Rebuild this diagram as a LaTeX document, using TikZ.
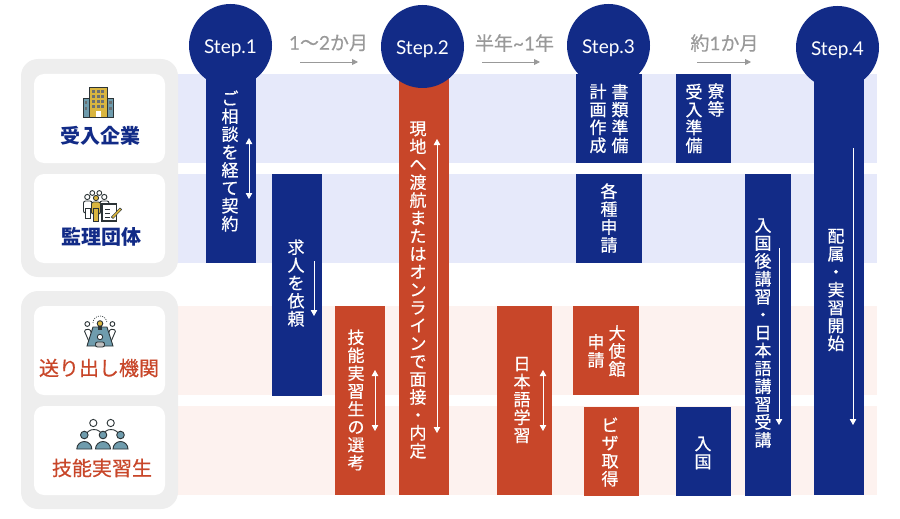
\documentclass[tikz,border=0pt]{standalone}
\usepackage{fontspec}
\setmainfont{Lato}
\newfontfamily\cjk{Noto Sans CJK JP}
\newfontfamily\cjkmid[FakeBold=0.5]{Noto Sans CJK JP}
\newfontfamily\latomid[FakeBold=0.3]{Lato}
\usetikzlibrary{arrows.meta}
\definecolor{navy}{HTML}{122B87}
\definecolor{brick}{HTML}{C84629}
\definecolor{bandblue}{HTML}{E6E9FA}
\definecolor{bandpink}{HTML}{FDF2EF}
\definecolor{panelgray}{HTML}{EEEEEE}
\definecolor{span}{HTML}{999999}
\definecolor{iconblue}{HTML}{6F9CAD}
\definecolor{icongold}{HTML}{D9B53F}
\definecolor{iconline}{HTML}{2B3336}
\tikzset{
	stepcircle/.style={circle,fill=navy,text=white,minimum size=83pt,inner sep=0pt,text height=16pt,text depth=0pt,font=\fontsize{19}{21}\selectfont},
	vlabel/.style={text=white,align=center,inner sep=0pt,font=\cjkmid\fontsize{17}{17.9}\selectfont},
	bluelabel/.style={text=navy,inner sep=0pt,font=\cjk\bfseries\fontsize{20}{23}\selectfont},
	redlabel/.style={text=brick,inner sep=0pt,font=\cjkmid\fontsize{20}{22}\selectfont},
	spanlabel/.style={text=span,inner sep=0pt,font=\cjkmid\fontsize{19}{21}\selectfont},
	panel/.style={fill=panelgray,rounded corners=17pt},
	card/.style={fill=white,rounded corners=10pt},
	whitearrow/.style={white,line width=0.9pt,-{Triangle[length=6pt,width=6.5pt]}},
	whitedouble/.style={white,line width=0.9pt,{Triangle[length=6pt,width=6.5pt]}-{Triangle[length=6pt,width=6.5pt]}},
	grayarrow/.style={span,line width=0.9pt,-{Triangle[length=6pt,width=6pt]}},
	iconedge/.style={draw=iconline,line width=0.9pt}
}
\begin{document}
\begin{tikzpicture}[x=1pt,y=-1pt]
	\useasboundingbox (0,0) rectangle (900,519);

	% bands
	\fill[bandblue] (170,74) rectangle (877,163);
	\fill[bandblue] (170,174) rectangle (877,263);
	\fill[bandpink] (170,306) rectangle (877,395);
	\fill[bandpink] (170,406) rectangle (877,495);

	% left panels
	\fill[panel] (21,59) rectangle (178,277);
	\fill[panel] (21,291) rectangle (178,509);
	\fill[card] (34,74) rectangle (165,163);
	\fill[card] (34,174) rectangle (165,263);
	\fill[card] (34,306) rectangle (165,395);
	\fill[card] (34,406) rectangle (165,495);
	\node[bluelabel] (company) at (100,136) {受入企業};
	\node[bluelabel] (union) at (101,237) {監理団体};
	\node[redlabel] (sender) at (99,368) {送り出し機関};
	\node[redlabel] (trainee) at (102,468) {技能実習生};

	% building icon
	\draw[iconedge,fill=iconblue] (83,98) rectangle (113,117);
	\draw[iconedge,fill=icongold] (89,87) rectangle (107,117);
	\foreach \wx in {92,96.5,101}
		\foreach \wy in {90,95,100,105}
			\fill[iconline!70] (\wx,\wy) rectangle ++(3,2.6);
	\fill[iconline!70] (84.5,101) rectangle ++(2.8,2.5);
	\fill[iconline!70] (84.5,107) rectangle ++(2.8,2.5);
	\fill[iconline!70] (108.7,101) rectangle ++(2.8,2.5);
	\fill[iconline!70] (108.7,107) rectangle ++(2.8,2.5);
	\fill[white] (95.5,111) rectangle (100.5,116.5);

	% people with clipboard icon
	\draw[iconedge,fill=white] (92.3,193) circle (2.4);
	\draw[iconedge,fill=white] (99.3,193) circle (2.4);
	\draw[iconedge,fill=white] (87.3,197) circle (2.6);
	\draw[iconedge,fill=white] (104.3,197) circle (2.6);
	\draw[iconedge,fill=white,rounded corners=2pt] (83.5,201) rectangle (92,213);
	\draw[iconedge,fill=white] (85.5,208) rectangle (90,218);
	\draw[iconedge,fill=white,rounded corners=2pt] (100,201) rectangle (109,206);
	\draw[iconedge,fill=icongold] (96,198) circle (2.6);
	\draw[iconedge,fill=icongold,rounded corners=2pt] (91.5,202) rectangle (100.5,214);
	\draw[iconedge,fill=icongold] (93.5,208) rectangle (98.5,221);
	\draw[iconedge,fill=white,line width=1.3pt] (102,204) rectangle (116.5,221);
	\draw[iconline,line width=0.7pt] (105,209) -- (110,209) (105,213) -- (110,213) (105,217) -- (110,217);
	\draw[iconline,line width=2.8pt] (112,218) -- (121,208.5);
	\draw[icongold,line width=1.7pt] (112.6,217.4) -- (120.4,209.1);

	% meeting icon
	\draw[iconedge,fill=white,rounded corners=1.5pt] (84,330) -- (90,329) -- (94,342) -- (90,344) -- cycle;
	\draw[iconedge,fill=white,rounded corners=1.5pt] (116,330) -- (110,329) -- (106,342) -- (110,344) -- cycle;
	\draw[iconedge,fill=white] (87.3,324) circle (2.4);
	\draw[iconedge,fill=white] (112.4,324) circle (2.4);
	\draw[iconedge,fill=iconblue] (93,327) -- (107,327) -- (113,346) -- (87,346) -- cycle;
	\draw[iconedge,fill=icongold] (100,323.5) circle (2.8);
	\fill[iconline] (98.3,326) rectangle (101.7,329.5);
	\draw[iconline,line width=0.6pt,dash pattern=on 1pt off 1.2pt] (93,323) arc[start angle=180,end angle=360,radius=7];
	\draw[iconedge,fill=white] (100,337) circle (2.7);
	\draw[iconedge,fill=lightgray,rounded corners=2pt] (95.5,347) -- (95.5,342) -- (104.5,342) -- (104.5,347) -- cycle;

	% group icon
	\draw[iconedge,fill=white] (93.3,423) circle (3.6);
	\draw[iconedge,fill=white] (110.7,423) circle (3.6);
	\draw[iconedge,fill=white] (86,436) arc[start angle=180,end angle=360,x radius=8,y radius=6.5];
	\draw[iconedge,fill=white] (103,436) arc[start angle=180,end angle=360,x radius=8,y radius=6.5];
	\foreach \hx in {84.3,103,120.5} {
		\draw[iconedge,fill=iconblue] (\hx,435) circle (3.8);
		\draw[iconedge,fill=iconblue] (\hx-7.5,449) arc[start angle=180,end angle=360,x radius=7.5,y radius=7.5] -- cycle;
	}

	% bars
	\fill[navy] (206,74) rectangle ++(50,189);
	\fill[navy] (272,174) rectangle ++(50,222);
	\fill[brick] (399,74) rectangle ++(50,421);
	\fill[brick] (335,306) rectangle ++(50,189);
	\fill[brick] (497,306) rectangle ++(55,189);
	\fill[navy] (576,74) rectangle ++(66,89);
	\fill[navy] (576,174) rectangle ++(66,89);
	\fill[navy] (676,74) rectangle ++(55,89);
	\fill[navy] (745,174) rectangle ++(46,322);
	\fill[navy] (814,74) rectangle ++(50,421);
	\fill[brick] (573,306) rectangle ++(66,89);
	\fill[brick] (584,407) rectangle ++(55,89);
	\fill[navy] (676,407) rectangle ++(55,89);

	% steps
	\node[stepcircle] (step1) at (230.5,45.5) {Step.1};
	\node[stepcircle] (step2) at (422.5,46.5) {Step.2};
	\node[stepcircle] (step3) at (608.5,45.5) {Step.3};
	\node[stepcircle] (step4) at (837.5,47.5) {Step.4};

	% bar texts
	\node[vlabel] (consult) at (230,161) {ご\\相\\談\\を\\経\\て\\契\\約};
	\node[vlabel] (recruit) at (296,283) {求\\人\\を\\依\\頼};
	\node[vlabel] (select) at (356,400) {技\\能\\実\\習\\生\\の\\選\\考};
	\node[vlabel] (interview) at (418,290) {現\\地\\へ\\渡\\航\\ま\\た\\は\\オ\\ン\\ラ\\イ\\ン\\で\\面\\接\\・\\内\\定};
	\node[vlabel] (language) at (522,400) {日\\本\\語\\学\\習};
	\node[vlabel] (papers) at (620,118.5) {書\\類\\準\\備};
	\node[vlabel] (plan) at (598,118.5) {計\\画\\作\\成};
	\node[vlabel] (apply) at (609,218) {各\\種\\申\\請};
	\node[vlabel,anchor=north] (dorm) at (716,83) {寮\\等};
	\node[vlabel] (ready) at (694,118.5) {受\\入\\準\\備};
	\node[vlabel] (lecture) at (763,333) {入\\国\\後\\講\\習\\・\\日\\本\\語\\講\\習\\受\\講};
	\node[vlabel] (assign) at (836,290) {配\\属\\・\\実\\習\\開\\始};
	\node[vlabel] (embassy) at (617,351) {大\\使\\館};
	\node[vlabel] (embassyapply) at (596,351) {申\\請};
	\node[vlabel] (visa) at (610,452) {ビ\\ザ\\取\\得};
	\node[vlabel] (entry) at (703,453) {入\\国};

	% durations
	\node[spanlabel] (span1) at (328.5,43) {{\latomid 1}〜{\latomid 2}か月};
	\node[spanlabel] (span2) at (514.5,43) {半年{\latomid\char`~1}年};
	\node[spanlabel] (span3) at (724.5,43) {約{\latomid 1}か月};

	% arrow ends
	\coordinate (g1a) at (300,62);
	\coordinate (g1b) at (358,62);
	\coordinate (g2a) at (482,62);
	\coordinate (g2b) at (540,62);
	\coordinate (g3a) at (697,62);
	\coordinate (g3b) at (751,62);
	\coordinate (consulta) at (249,138);
	\coordinate (consultb) at (249,199);
	\coordinate (recruita) at (314,261);
	\coordinate (recruitb) at (314,316);
	\coordinate (interviewa) at (437,139);
	\coordinate (interviewb) at (437,433);
	\coordinate (selecta) at (375,370);
	\coordinate (selectb) at (375,431);
	\coordinate (languagea) at (543,370);
	\coordinate (languageb) at (543,431);
	\coordinate (lecturea) at (779,248);
	\coordinate (lectureb) at (779,425);
	\coordinate (assigna) at (853,148);
	\coordinate (assignb) at (853,425);

	\draw[grayarrow] (g1a) -- (g1b);
	\draw[grayarrow] (g2a) -- (g2b);
	\draw[grayarrow] (g3a) -- (g3b);
	\draw[whitedouble] (consulta) -- (consultb);
	\draw[whitearrow] (recruita) -- (recruitb);
	\draw[whitedouble] (interviewa) -- (interviewb);
	\draw[whitedouble] (selecta) -- (selectb);
	\draw[whitedouble] (languagea) -- (languageb);
	\draw[whitearrow] (lecturea) -- (lectureb);
	\draw[whitearrow] (assigna) -- (assignb);
\end{tikzpicture}
\end{document}
